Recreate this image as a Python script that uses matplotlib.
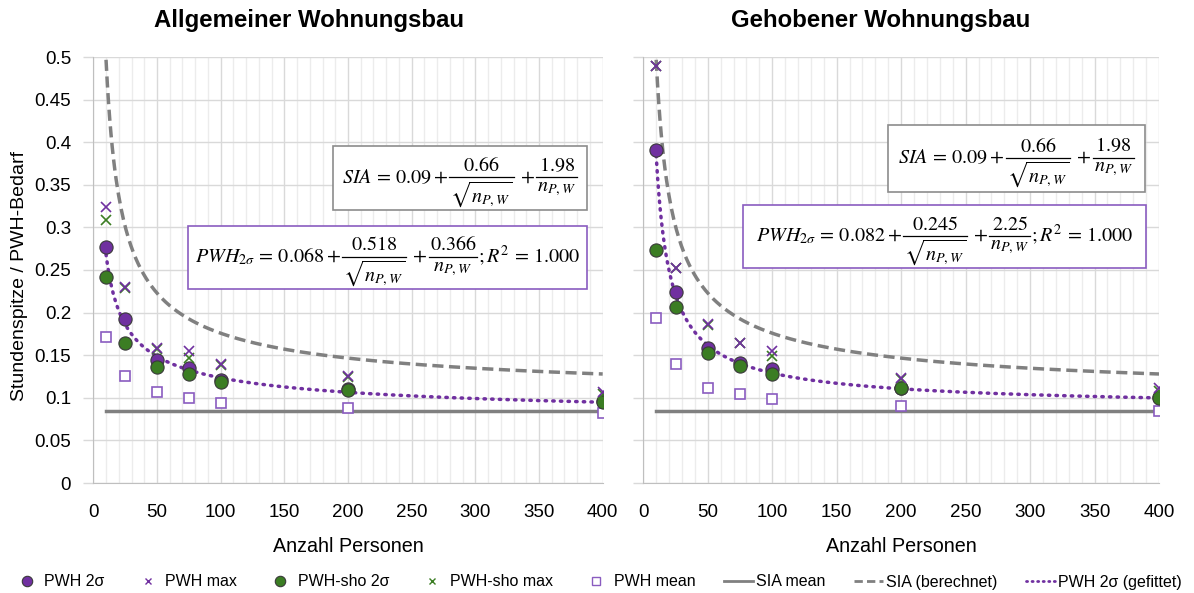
import numpy as np
import matplotlib.pyplot as plt
from matplotlib.lines import Line2D
from matplotlib.patches import Rectangle
from matplotlib.transforms import IdentityTransform

plt.rcParams['font.family'] = ['Liberation Sans', 'DejaVu Sans']
plt.rcParams['mathtext.fontset'] = 'stix'

# Anzahl Personen
n_personen = [10, 25, 50, 75, 100, 200, 400]

# Allgemeiner Wohnungsbau
allg_pwh_2s = [0.277, 0.1925, 0.144, 0.135, 0.121, 0.110, 0.096]
allg_pwh_max = [0.324, 0.230, 0.158, 0.155, 0.140, 0.126, 0.107]
allg_sho_2s = [0.242, 0.164, 0.136, 0.128, 0.119, 0.109, 0.095]
allg_sho_max = [0.309, 0.229, 0.157, 0.147, 0.139, 0.125, 0.104]
allg_pwh_mean = [0.171, 0.1255, 0.107, 0.100, 0.094, 0.088, 0.082]

# Gehobener Wohnungsbau
geh_pwh_2s = [0.391, 0.224, 0.158, 0.1405, 0.1335, 0.112, 0.101]
geh_pwh_max = [0.490, 0.252, 0.187, 0.164, 0.155, 0.123, 0.111]
geh_sho_2s = [0.274, 0.206, 0.153, 0.137, 0.128, 0.111, 0.100]
geh_sho_max = [0.490, 0.252, 0.186, 0.164, 0.149, 0.122, 0.108]
geh_pwh_mean = [0.194, 0.140, 0.112, 0.104, 0.099, 0.090, 0.0845]

sia_mean = 0.084
# a + b/sqrt(n) + c/n
sia_coef = [0.09, 0.66, 1.98]
allg_fit_coef = [0.068, 0.518, 0.366]
geh_fit_coef = [0.082, 0.245, 2.25]

purple = '#7030A0'
green = '#3B7D23'
grey = '#808080'

W, H = 1194, 593
fig = plt.figure(figsize=(W / 100, H / 100), dpi=100)
ax1 = fig.add_axes([93.3 / W, 110 / H, 509.4 / W, 426 / H])
ax2 = fig.add_axes([643.3 / W, 110 / H, 515.7 / W, 426 / H])


def curve(coef, n):
    return coef[0] + coef[1] / np.sqrt(n) + coef[2] / n


def draw(ax, p2s, pmax, s2s, smax, pmean, fitcoef, ylabels):
    n = np.linspace(n_personen[0], n_personen[-1], 400)
    ax.plot([n_personen[0], n_personen[-1]], [sia_mean, sia_mean], color=grey, lw=2.5, zorder=2)
    ax.plot(n, curve(sia_coef, n), color=grey, lw=2.5, dashes=(3.2, 1.6), zorder=2)
    ax.plot(n, curve(fitcoef, n), color=purple, lw=2.5, ls=(0, (0.4, 1.8)),
            dash_capstyle='round', zorder=2)
    ax.plot(n_personen, pmean, 's', ms=7.5, mfc='white', mec='#8a5cc0', mew=1.2, zorder=3)
    ax.plot(n_personen, p2s, 'o', ms=9.5, mfc=purple, mec='#3a3a3a', mew=0.8, zorder=4)
    ax.plot(n_personen, s2s, 'o', ms=9.5, mfc=green, mec='#3a3a3a', mew=0.8, zorder=5)
    ax.plot(n_personen, smax, 'x', ms=6.5, mec=green, mew=1.2, zorder=6)
    ax.plot(n_personen, pmax, 'x', ms=6.5, mec=purple, mew=1.2, zorder=6)

    ax.set_xlim(0, 400)
    ax.set_ylim(0, 0.5)
    ax.set_xticks(np.arange(0, 401, 50))
    ax.set_xticks(np.arange(0, 401, 10), minor=True)
    yt = np.round(np.arange(0, 0.501, 0.05), 2)
    ax.set_yticks(yt)
    ax.set_yticklabels([f'{v:g}' for v in yt])
    ax.grid(which='major', color='#d9d9d9', lw=1, zorder=0)
    ax.grid(which='minor', axis='x', color='#ececec', lw=1, zorder=0)
    ax.set_axisbelow(True)
    ax.tick_params(axis='x', which='both', length=0, pad=15, labelsize=13.5)
    ax.tick_params(axis='y', length=7, width=1, color='#d9d9d9', pad=9, labelsize=13.5,
                   labelleft=ylabels)
    for s in ['top', 'right']:
        ax.spines[s].set_visible(False)
    for s in ['left', 'bottom']:
        ax.spines[s].set_color('#bfbfbf')
    ax.set_xlabel('Anzahl Personen', fontsize=14.2, labelpad=12)


draw(ax1, allg_pwh_2s, allg_pwh_max, allg_sho_2s, allg_sho_max, allg_pwh_mean, allg_fit_coef, True)
draw(ax2, geh_pwh_2s, geh_pwh_max, geh_sho_2s, geh_sho_max, geh_pwh_mean, geh_fit_coef, False)

fig.text(309 / W, 1 - 21 / H, 'Allgemeiner Wohnungsbau', fontsize=17.3, fontweight='bold',
         ha='center', va='center')
fig.text(881 / W, 1 - 21 / H, 'Gehobener Wohnungsbau', fontsize=17.3, fontweight='bold',
         ha='center', va='center')
fig.text(20 / W, 1 - 276 / H, 'Stundenspitze / PWH-Bedarf', fontsize=14, rotation=90,
         ha='center', va='center')

renderer = fig.canvas.get_renderer()
px = IdentityTransform()
FS = 14.5


def formula_box(x0, y0, x1, y1, parts, ec):
    # box in pixels (top-left origin); strings sit on one baseline,
    # tuples (num, den) are stacked as fractions around a rule
    fig.add_artist(Rectangle((x0, H - y1), x1 - x0, y1 - y0, transform=px,
                             facecolor='white', edgecolor=ec, lw=1.2, zorder=10))
    items = []
    for p in parts:
        if isinstance(p, tuple):
            tn = fig.text(0, 0, p[0], fontsize=FS, ha='center', va='bottom', transform=px, zorder=11)
            td = fig.text(0, 0, p[1], fontsize=FS, ha='center', va='top', transform=px, zorder=11)
            w = max(tn.get_window_extent(renderer).width, td.get_window_extent(renderer).width) + 4
            items.append((tn, td, w))
        else:
            t = fig.text(0, 0, p, fontsize=FS, ha='left', va='baseline', transform=px, zorder=11)
            items.append((t, None, t.get_window_extent(renderer).width))
    total = sum(it[2] for it in items)
    x = (x0 + x1) / 2 - total / 2
    bar = H - (y0 + y1) / 2 + 1
    base = bar - 5.5
    for a, b, w in items:
        if b is None:
            a.set_position((x, base))
        else:
            a.set_position((x + w / 2, bar + 2))
            b.set_position((x + w / 2, bar - 2))
            fig.add_artist(Line2D([x + 1, x + w - 1], [bar, bar], transform=px,
                                  color='black', lw=0.9, zorder=11))
        x += w


sia_parts = [r'$SIA\,=\,0.09+$', ('$%g$' % sia_coef[1], r'$\sqrt{n_{P,W}}$'), r'$\,+\,$',
             ('$%g$' % sia_coef[2], '$n_{P,W}$')]


def fit_parts(c):
    return [r'$PWH_{2\sigma}\,=\,%g+$' % c[0], ('$%g$' % c[1], r'$\sqrt{n_{P,W}}$'),
            r'$\,+\,$', ('$%g$' % c[2], '$n_{P,W}$'), r'$;R^2\,=\,1.000$']


formula_box(333, 146, 587, 210, sia_parts, '#8c8c8c')
formula_box(188, 226, 587, 289, fit_parts(allg_fit_coef), '#8a5cc0')
formula_box(888, 125, 1145, 192, sia_parts, '#8c8c8c')
formula_box(743, 205, 1146, 268, fit_parts(geh_fit_coef), '#8a5cc0')

handles = [
    Line2D([], [], ls='none', marker='o', ms=7.5, mfc=purple, mec='#3a3a3a', mew=0.8),
    Line2D([], [], ls='none', marker='x', ms=5, mec=purple, mew=1),
    Line2D([], [], ls='none', marker='o', ms=7.5, mfc=green, mec='#3a3a3a', mew=0.8),
    Line2D([], [], ls='none', marker='x', ms=5, mec=green, mew=1),
    Line2D([], [], ls='none', marker='s', ms=6, mfc='white', mec='#8a5cc0', mew=1),
    Line2D([], [], color=grey, lw=2),
    Line2D([], [], color=grey, lw=2, dashes=(3, 1.5)),
    Line2D([], [], color=purple, lw=2, ls=(0, (0.4, 1.6)), dash_capstyle='round'),
]
labels = ['PWH 2σ', 'PWH max', 'PWH-sho 2σ', 'PWH-sho max', 'PWH mean', 'SIA mean',
          'SIA (berechnet)', 'PWH 2σ (gefittet)']
fig.legend(handles, labels, loc='center', bbox_to_anchor=(0.5, 1 - 582 / H), ncol=8,
           frameon=False, fontsize=11.5, handlelength=1.8, handletextpad=0.2,
           columnspacing=1.8, borderaxespad=0, borderpad=0)

fig.savefig('out.png', dpi=100)
